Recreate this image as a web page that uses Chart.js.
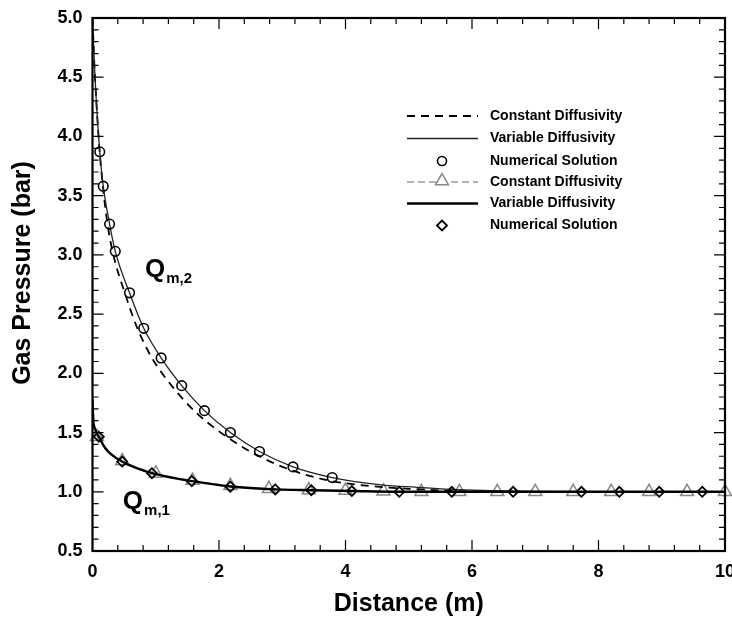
<!DOCTYPE html>
<html>
<head>
<meta charset="utf-8">
<script src="https://cdn.jsdelivr.net/npm/chart.js@4.4.1/dist/chart.umd.min.js"></script>
<style>
  html, body { margin: 0; padding: 0; background: #fff; }
  #wrap { width: 732px; height: 625px; position: relative; }
</style>
</head>
<body>
<div id="wrap"><canvas id="c"></canvas></div>
<script>
// ---- data ----
const xTickLabels = [0, 2, 4, 6, 8, 10];
const yTickLabels = [0.5, 1.0, 1.5, 2.0, 2.5, 3.0, 3.5, 4.0, 4.5, 5.0];
const xTitle = 'Distance (m)';
const yTitle = 'Gas Pressure (bar)';

// Q_m,2 – variable diffusivity (thin solid)
const qm2VarX = [0, 0.03, 0.06, 0.115, 0.17, 0.27, 0.36, 0.585, 0.81, 1.085, 1.41, 1.77, 2.18, 2.64, 3.17, 3.79, 4.6, 5.13, 5.66, 6.3, 7.0, 8.5, 10];
const qm2VarY = [5.0, 4.6, 4.3, 3.87, 3.58, 3.26, 3.03, 2.68, 2.38, 2.13, 1.896, 1.685, 1.50, 1.34, 1.21, 1.12, 1.057, 1.038, 1.02, 1.01, 1.003, 1.0, 1.0];
// Q_m,2 – constant diffusivity (black dashed)
const qm2ConX = [0, 0.03, 0.06, 0.115, 0.17, 0.24, 0.33, 0.51, 0.71, 0.94, 1.25, 1.65, 2.18, 2.65, 3.18, 3.79, 4.39, 5.0, 5.6, 6.5, 8, 10];
const qm2ConY = [5.0, 4.6, 4.3, 3.86, 3.55, 3.25, 3.0, 2.68, 2.38, 2.13, 1.896, 1.663, 1.443, 1.296, 1.176, 1.09, 1.049, 1.025, 1.01, 1.0, 1.0, 1.0];
// Q_m,2 – numerical (circles)
const qm2NumX = [0.115, 0.17, 0.27, 0.36, 0.585, 0.81, 1.085, 1.41, 1.77, 2.18, 2.64, 3.17, 3.79];
const qm2NumY = [3.87, 3.58, 3.26, 3.03, 2.68, 2.38, 2.13, 1.896, 1.685, 1.50, 1.34, 1.21, 1.12];

// Q_m,1 – variable diffusivity (thick solid)
const qm1VarX = [0, 0.01, 0.04, 0.1, 0.2, 0.32, 0.47, 0.7, 0.94, 1.25, 1.57, 2.18, 2.89, 3.47, 4.12, 4.85, 6, 10];
const qm1VarY = [1.78, 1.62, 1.53, 1.465, 1.37, 1.305, 1.255, 1.2, 1.157, 1.12, 1.09, 1.045, 1.02, 1.013, 1.006, 1.0, 1.0, 1.0];
// Q_m,1 – constant diffusivity (grey dashed + triangles)
const qm1ConX = [0, 0.04, 0.07, 0.2, 0.47, 1.0, 1.58, 2.18, 2.79, 3.42, 4.0, 4.6, 10];
const qm1ConY = [1.75, 1.53, 1.47, 1.37, 1.26, 1.155, 1.095, 1.05, 1.025, 1.015, 1.01, 1.0, 1.0];
const qm1TriX = [0.07, 0.47, 1.0, 1.58, 2.18, 2.79, 3.42, 4.0, 4.6, 5.2, 5.8, 6.4, 7.0, 7.6, 8.2, 8.8, 9.4, 10.0];
const qm1TriY = [1.465, 1.26, 1.155, 1.095, 1.05, 1.025, 1.015, 1.01, 1.005, 1.0, 1.0, 1.0, 1.0, 1.0, 1.0, 1.0, 1.0, 1.0];
// Q_m,1 – numerical (diamonds)
const qm1NumX = [0.10, 0.47, 0.94, 1.57, 2.18, 2.89, 3.46, 4.10, 4.85, 5.68, 6.65, 7.73, 8.33, 8.96, 9.64];
const qm1NumY = [1.465, 1.255, 1.157, 1.09, 1.043, 1.02, 1.013, 1.006, 1.0, 1.0, 1.0, 1.0, 1.0, 1.0, 1.0];

const legendLabels = ['Constant Diffusivity', 'Variable Diffusivity', 'Numerical Solution',
                      'Constant Diffusivity', 'Variable Diffusivity', 'Numerical Solution'];
const curveLabels = [{ main: 'Q', sub: 'm,2', x: 0.83, y: 2.81 }, { main: 'Q', sub: 'm,1', x: 0.48, y: 0.855 }];

const xMinorStep = 0.4, xMajorEvery = 5;
const yMinorStep = 0.1, yMajorEvery = 5;

const pts = (xs, ys) => xs.map((x, i) => ({ x, y: ys[i] }));
const FONT = '"Liberation Sans", Arial, Helvetica, sans-serif';

// ---- plugins ----
const frameTicks = {
  id: 'frameTicks',
  afterDatasetsDraw(chart) {
    const { ctx, chartArea: a, scales: { x, y } } = chart;
    ctx.save();
    ctx.strokeStyle = '#000';
    ctx.lineWidth = 1.2;
    ctx.beginPath();
    const nx = Math.round((x.max - x.min) / xMinorStep);
    for (let i = 0; i <= nx; i++) {
      const px = x.getPixelForValue(x.min + i * xMinorStep);
      const len = i % xMajorEvery === 0 ? 11 : 6;
      ctx.moveTo(px, a.bottom); ctx.lineTo(px, a.bottom - len);
      ctx.moveTo(px, a.top); ctx.lineTo(px, a.top + len);
    }
    const ny = Math.round((y.max - y.min) / yMinorStep);
    for (let i = 0; i <= ny; i++) {
      const py = y.getPixelForValue(y.min + i * yMinorStep);
      const len = i % yMajorEvery === 0 ? 11 : 6;
      ctx.moveTo(a.left, py); ctx.lineTo(a.left + len, py);
      ctx.moveTo(a.right, py); ctx.lineTo(a.right - len, py);
    }
    ctx.stroke();
    ctx.lineWidth = 2.2;
    ctx.strokeRect(a.left, a.top, a.right - a.left, a.bottom - a.top);
    ctx.restore();
  }
};

const annot = {
  id: 'annot',
  afterDraw(chart) {
    const { ctx, scales: { x, y } } = chart;
    ctx.save();
    ctx.fillStyle = '#000';
    ctx.textBaseline = 'alphabetic';
    curveLabels.forEach(l => {
      const px = x.getPixelForValue(l.x), py = y.getPixelForValue(l.y);
      ctx.font = 'bold 26px ' + FONT;
      ctx.fillText(l.main, px, py);
      const w = ctx.measureText(l.main).width;
      ctx.font = 'bold 15px ' + FONT;
      ctx.fillText(l.sub, px + w + 1, py + 6);
    });

    // y axis title
    ctx.save();
    ctx.translate(23, 273);
    ctx.rotate(-Math.PI / 2);
    ctx.font = 'bold 25px ' + FONT;
    ctx.textAlign = 'center';
    ctx.textBaseline = 'middle';
    ctx.fillText(yTitle, 0, 0);
    ctx.restore();

    // legend
    const rowY = [116, 138.5, 161, 182, 203.5, 225.5];
    const lx0 = 407, lx1 = 478, mx = 442, tx = 490;
    const H = Chart.helpers;
    rowY.forEach((ry, i) => {
      ctx.save();
      ctx.fillStyle = 'rgba(0,0,0,0)';
      ctx.beginPath();
      if (i === 0) {
        ctx.setLineDash([8, 6]); ctx.lineWidth = 1.8; ctx.strokeStyle = '#000';
        ctx.moveTo(lx0, ry); ctx.lineTo(lx1, ry); ctx.stroke();
      } else if (i === 1) {
        ctx.lineWidth = 1.3; ctx.strokeStyle = '#222';
        ctx.moveTo(lx0, ry); ctx.lineTo(lx1, ry); ctx.stroke();
      } else if (i === 2) {
        ctx.lineWidth = 1.6; ctx.strokeStyle = '#000';
        H.drawPoint(ctx, { pointStyle: 'circle', radius: 4.5, rotation: 0, borderWidth: 1.6 }, mx, ry);
      } else if (i === 3) {
        ctx.setLineDash([7, 4]); ctx.lineWidth = 1.3; ctx.strokeStyle = '#999';
        ctx.moveTo(lx0, ry); ctx.lineTo(lx1, ry); ctx.stroke();
        ctx.setLineDash([]); ctx.strokeStyle = '#888'; ctx.lineWidth = 1.5;
        ctx.fillStyle = '#fff';
        H.drawPoint(ctx, { pointStyle: 'triangle', radius: 7.5, rotation: 0, borderWidth: 1.5 }, mx, ry - 1);
      } else if (i === 4) {
        ctx.lineWidth = 2.4; ctx.strokeStyle = '#000';
        ctx.moveTo(lx0, ry); ctx.lineTo(lx1, ry); ctx.stroke();
      } else {
        ctx.lineWidth = 1.8; ctx.strokeStyle = '#000';
        H.drawPoint(ctx, { pointStyle: 'rectRot', radius: 5, rotation: 0, borderWidth: 1.8 }, mx, ry);
      }
      ctx.restore();
      ctx.font = 'bold 14px ' + FONT;
      ctx.textBaseline = 'middle';
      ctx.fillStyle = '#000';
      ctx.fillText(legendLabels[i], tx, ry);
    });
    ctx.restore();
  }
};

const lineDS = (label, data, opts) => Object.assign({
  label, data, showLine: true, pointRadius: 0, pointHoverRadius: 0,
  fill: false, cubicInterpolationMode: 'monotone', backgroundColor: 'transparent'
}, opts);
const markDS = (label, data, opts) => Object.assign({
  label, data, showLine: false, backgroundColor: 'rgba(0,0,0,0)', pointHoverRadius: 0
}, opts);

new Chart(document.getElementById('c'), {
  type: 'scatter',
  data: {
    datasets: [
      markDS('Q1 numerical', pts(qm1NumX, qm1NumY), { pointStyle: 'rectRot', pointRadius: 5, pointBorderColor: '#000', borderColor: '#000', pointBorderWidth: 1.8 }),
      markDS('Q2 numerical', pts(qm2NumX, qm2NumY), { pointStyle: 'circle', pointRadius: 4.8, pointBorderColor: '#000', borderColor: '#000', pointBorderWidth: 1.6 }),
      lineDS('Q1 variable', pts(qm1VarX, qm1VarY), { borderColor: '#000', borderWidth: 2.4 }),
      lineDS('Q2 variable', pts(qm2VarX, qm2VarY), { borderColor: '#222', borderWidth: 1.3 }),
      lineDS('Q2 constant', pts(qm2ConX, qm2ConY), { borderColor: '#000', borderWidth: 1.8, borderDash: [8, 6] }),
      markDS('Q1 constant pts', pts(qm1TriX, qm1TriY), { pointStyle: 'triangle', pointRadius: 7.5, pointBorderColor: '#888', borderColor: '#888', pointBorderWidth: 1.5, clip: false }),
      lineDS('Q1 constant', pts(qm1ConX, qm1ConY), { borderColor: '#999', borderWidth: 1.3, borderDash: [7, 4] })
    ]
  },
  options: {
    responsive: true,
    maintainAspectRatio: false,
    animation: false,
    layout: { autoPadding: false, padding: { top: 18, right: 7, left: 0, bottom: 0 } },
    plugins: { legend: { display: false }, tooltip: { enabled: false } },
    scales: {
      x: {
        type: 'linear', min: 0, max: 10,
        grid: { display: true, drawOnChartArea: false, drawTicks: false, color: 'rgba(0,0,0,0)' },
        border: { display: false },
        afterBuildTicks: s => { s.ticks = xTickLabels.map(v => ({ value: v })); },
        ticks: { color: '#000', padding: 10, maxRotation: 0, autoSkip: false,
          font: { family: FONT, size: 18, weight: 'bold' }, callback: v => String(v) },
        title: { display: true, text: xTitle, color: '#000', padding: { top: 6, bottom: 6 },
          font: { family: FONT, size: 25, weight: 'bold' } },
        afterFit: s => { s.height = 74; s.paddingLeft = 0; s.paddingRight = 0; }
      },
      y: {
        type: 'linear', min: 0.5, max: 5.0,
        grid: { display: true, drawOnChartArea: false, drawTicks: false, color: 'rgba(0,0,0,0)' },
        border: { display: false },
        afterBuildTicks: s => { s.ticks = yTickLabels.map(v => ({ value: v })); },
        ticks: { color: '#000', padding: 10, autoSkip: false,
          font: { family: FONT, size: 18, weight: 'bold' }, callback: v => v.toFixed(1) },
        title: { display: false },
        afterFit: s => { s.width = 92.5; s.paddingTop = 0; s.paddingBottom = 0; }
      }
    }
  },
  plugins: [frameTicks, annot]
});
</script>
</body>
</html>
